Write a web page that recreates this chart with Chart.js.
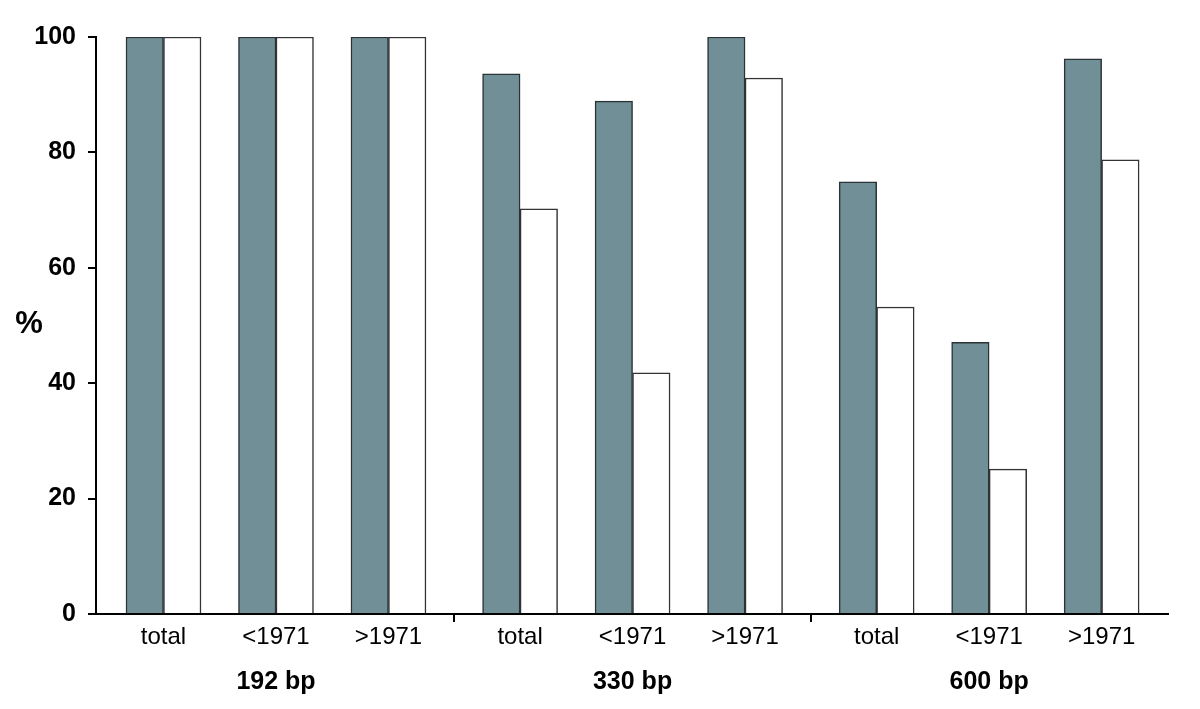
<!DOCTYPE html>
<html>
<head>
<meta charset="utf-8">
<script src="https://cdn.jsdelivr.net/npm/chart.js@4/dist/chart.umd.min.js"></script>
<style>
  html, body { margin: 0; padding: 0; background: #fff; }
  #wrap { width: 1200px; height: 709px; position: relative; }
</style>
</head>
<body>
<div id="wrap"><canvas id="c" width="1200" height="709"></canvas></div>
<script>
// ---- data ----
const groups = ["192 bp", "330 bp", "600 bp"];
const subCategories = ["total", "<1971", ">1971"];
const filledValues = [100, 100, 100, 93.6, 88.9, 100, 74.9, 47.1, 96.2];
const openValues   = [100, 100, 100, 70.2, 41.8, 92.9, 53.2, 25.1, 78.7];
const yTicks = [0, 20, 40, 60, 80, 100];

// ---- layout helpers ----
const GROUP_GAP = 0.17; // extra spacing between groups (in category units)
const perGroup = subCategories.length;
const nCats = groups.length * perGroup;
const pos = i => i + Math.floor(i / perGroup) * GROUP_GAP;
const categoryLabels = [];
for (let i = 0; i < nCats; i++) categoryLabels.push(subCategories[i % perGroup]);

const X_MIN = -0.6, X_MAX = pos(nCats - 1) + 0.59;

const FONT = "'Liberation Sans', Arial, Helvetica, sans-serif";

const percentLabel = {
  id: 'percentLabel',
  afterDraw(chart) {
    const ctx = chart.ctx, a = chart.chartArea;
    ctx.save();
    ctx.font = "bold 31px " + FONT;
    ctx.fillStyle = '#000';
    ctx.textAlign = 'center';
    ctx.textBaseline = 'middle';
    ctx.fillText('%', 29, (a.top + a.bottom) / 2 - 1);
    ctx.restore();
  }
};

new Chart(document.getElementById('c'), {
  type: 'bar',
  data: {
    datasets: [
      {
        data: filledValues.map((v, i) => ({ x: pos(i), y: v })),
        backgroundColor: '#718f97',
        borderColor: '#2b3336',
        borderWidth: 1.5,
        barThickness: 37.5
      },
      {
        data: openValues.map((v, i) => ({ x: pos(i), y: v })),
        backgroundColor: '#ffffff',
        borderColor: '#333333',
        borderWidth: 1.5,
        barThickness: 37.5
      }
    ]
  },
  options: {
    responsive: false,
    animation: false,
    events: [],
    layout: { padding: { left: 0, right: 32, top: 37, bottom: 0 } },
    plugins: { legend: { display: false }, tooltip: { enabled: false } },
    scales: {
      x: {
        type: 'linear',
        position: 'bottom',
        offset: false,
        bounds: 'data',
        min: X_MIN,
        max: X_MAX,
        afterBuildTicks(scale) {
          const t = [];
          for (let i = 0; i < nCats; i++) t.push({ value: pos(i), lab: categoryLabels[i] });
          for (let g = 1; g < groups.length; g++) {
            const v = (pos(g * perGroup - 1) + pos(g * perGroup)) / 2;
            t.push({ value: v, lab: '', sep: true });
          }
          t.sort((a, b) => a.value - b.value);
          scale.ticks = t;
        },
        afterFit(scale) { scale.height = 50; },
        ticks: {
          autoSkip: false,
          maxRotation: 0,
          padding: 1,
          color: '#000',
          font: { family: FONT, size: 24 },
          callback: (value, index, ticks) => ticks[index].lab
        },
        grid: {
          offset: false,
          drawOnChartArea: false,
          drawTicks: true,
          tickLength: 8,
          lineWidth: 2,
          color: ctx => (ctx.tick && ctx.tick.sep) ? '#000' : 'rgba(0,0,0,0)'
        },
        border: { display: true, color: '#000', width: 2 }
      },
      x2: {
        type: 'linear',
        position: 'bottom',
        offset: false,
        bounds: 'data',
        min: X_MIN,
        max: X_MAX,
        afterBuildTicks(scale) {
          scale.ticks = groups.map((g, k) => ({ value: pos(k * perGroup + 1), lab: g }));
        },
        afterFit(scale) { scale.height = 45; },
        ticks: {
          autoSkip: false,
          maxRotation: 0,
          padding: 3,
          color: '#000',
          font: { family: FONT, size: 25, weight: 'bold' },
          callback: (value, index, ticks) => ticks[index].lab
        },
        grid: { display: false, offset: false, drawTicks: false, tickLength: 0 },
        border: { display: false }
      },
      y: {
        min: 0,
        max: 100,
        afterBuildTicks(scale) { scale.ticks = yTicks.map(v => ({ value: v })); },
        afterFit(scale) { scale.width = 96; },
        ticks: {
          padding: 12,
          color: '#000',
          font: { family: FONT, size: 25, weight: 'bold' }
        },
        grid: {
          drawOnChartArea: false,
          drawTicks: true,
          tickLength: 8,
          lineWidth: 2,
          color: '#000'
        },
        border: { display: true, color: '#000', width: 2 }
      }
    }
  },
  plugins: [percentLabel]
});
</script>
</body>
</html>
